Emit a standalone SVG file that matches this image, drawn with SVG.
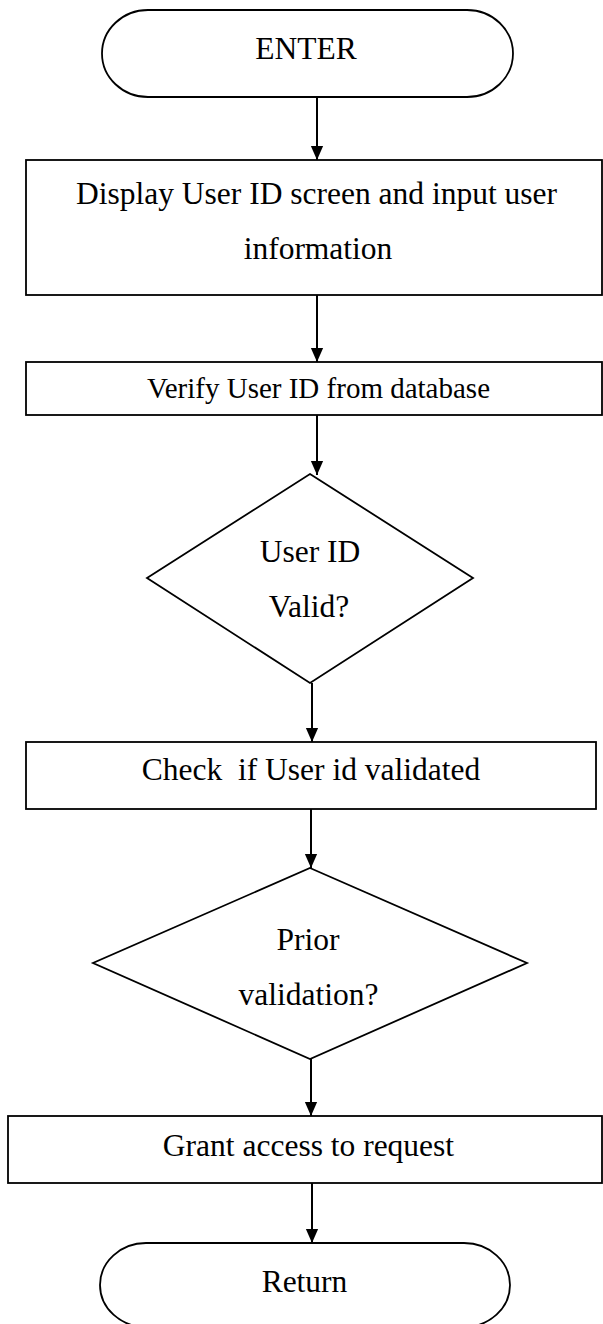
<svg xmlns="http://www.w3.org/2000/svg" width="603" height="1324" viewBox="0 0 603 1324">
<style>
.s{fill:#fff;stroke:#000;stroke-width:1.8}
.t{font-family:"Liberation Serif","Times New Roman",serif;font-size:31.5px;fill:#000;text-anchor:middle;white-space:pre}
.c{stroke:#000;stroke-width:2;fill:none;marker-end:url(#ah)}
</style>
<defs>
<marker id="ah" markerUnits="userSpaceOnUse" markerWidth="14" markerHeight="16" refX="16" refY="7" orient="auto" viewBox="0 0 16 14">
<path d="M0,0 L16,7 L0,14 Z" fill="#000"/>
</marker>
</defs>
<rect width="603" height="1324" fill="#fff"/>
<g id="connectors">
<line class="c" x1="317" y1="97" x2="317" y2="160"/>
<line class="c" x1="317" y1="295" x2="317" y2="362"/>
<line class="c" x1="317" y1="415" x2="317" y2="475"/>
<line class="c" x1="312" y1="683" x2="312" y2="742"/>
<line class="c" x1="311" y1="809" x2="311" y2="868"/>
<line class="c" x1="311" y1="1059" x2="311" y2="1116"/>
<line class="c" x1="312" y1="1183" x2="312" y2="1243"/>
</g>
<g id="enter">
<rect class="s" x="102" y="10" width="411" height="87" rx="46" ry="43.5"/>
<text class="t" x="306" y="59">ENTER</text>
</g>
<g id="display">
<rect class="s" x="26" y="160" width="576" height="135"/>
<text class="t" x="316.5" y="204">Display User ID screen and input user</text>
<text class="t" x="318" y="259">information</text>
</g>
<g id="verify">
<rect class="s" x="26" y="362" width="576" height="53"/>
<text class="t" x="318.5" y="398" style="font-size:29px">Verify User ID from database</text>
</g>
<g id="valid">
<polygon class="s" points="310,474 473,578 310,683 147,578"/>
<text class="t" x="310" y="562">User ID</text>
<text class="t" x="309" y="617">Valid?</text>
</g>
<g id="check">
<rect class="s" x="26" y="742" width="570" height="67"/>
<text class="t" x="311" y="780" xml:space="preserve">Check  if User id validated</text>
</g>
<g id="prior">
<polygon class="s" points="310,868 527,963 310,1059 93,963"/>
<text class="t" x="308" y="950">Prior</text>
<text class="t" x="308.5" y="1005">validation?</text>
</g>
<g id="grant">
<rect class="s" x="8" y="1116" width="594" height="67"/>
<text class="t" x="308.5" y="1156">Grant access to request</text>
</g>
<g id="return">
<rect class="s" x="100" y="1243" width="410" height="84" rx="46" ry="42"/>
<text class="t" x="304.5" y="1292">Return</text>
</g>
</svg>
